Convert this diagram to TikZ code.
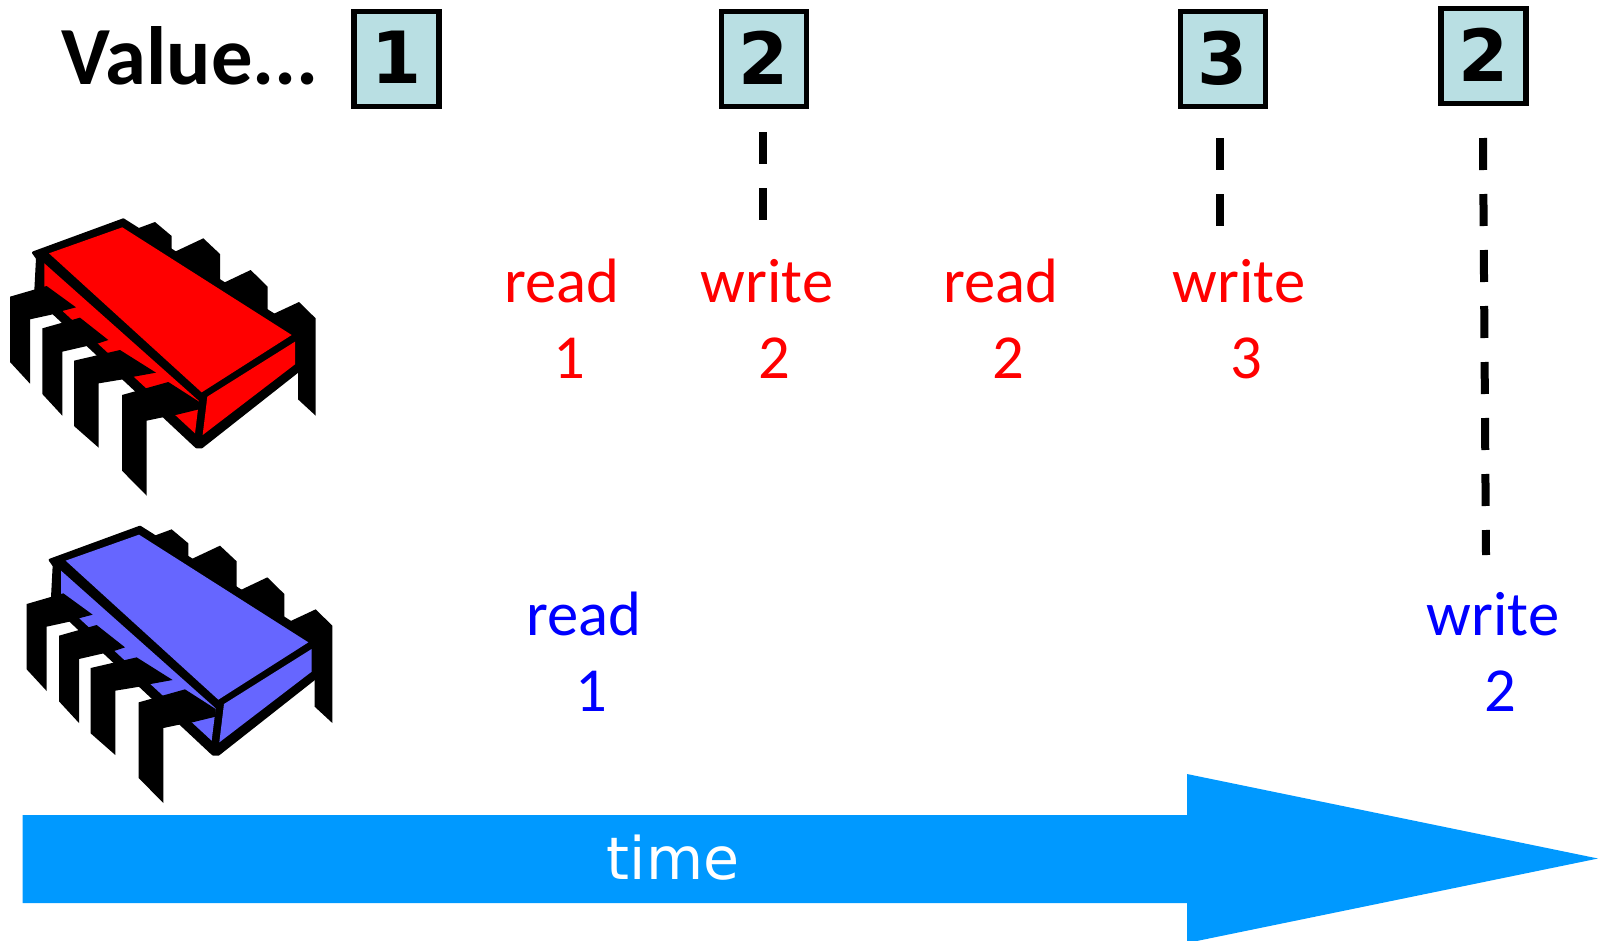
\documentclass[tikz,border=0pt]{standalone}
\usepackage{fontspec}
\setmainfont{Carlito}
\newfontfamily\digitfont{DejaVu Sans}
\definecolor{boxteal}{HTML}{B9DFE3}
\definecolor{arrowblue}{HTML}{0099FF}
\definecolor{chipblue}{HTML}{6666FF}
\tikzset{
  valbox/.style={draw=black,line width=4.2pt,fill=boxteal,minimum width=63.5pt,minimum height=71pt,inner sep=0pt,
    font=\digitfont\bfseries\fontsize{54}{54}\selectfont},
  lab/.style={anchor=base,inner sep=0pt,font=\fontsize{47}{50}\selectfont},
  redlab/.style={lab,text=red},
  bluelab/.style={lab,text=blue},
  dashline/.style={line width=6pt,dash pattern=on 24pt off 18pt},
}
\newcommand{\chipdraw}[1]{%
  % back pins
  \fill (400,90)--(465,66)--(515,108)--(515,165)--(450,165)--cycle;
  \fill (525,155)--(610,115)--(660,162)--(660,250)--(600,240)--cycle;
  \fill (672,248)--(752,210)--(803,260)--(803,345)--(740,320)--cycle;
  \fill (820,342)--(897,306)--(947,355)--(947,647)--(894,598)--(894,510)--(850,400)--cycle;
  % silhouette
  \draw[fill=black,line width=2pt,line join=round] (100,158)--(112,175)--(107,270)--(163,342)--(583,735)--(590,741)--(605,741)--(892,515)--(886,385)--(370,59)--cycle;
  % faces
  \fill[#1] (133,190)--(597,603)--(585,700)--(190,335)--(133,262)--cycle;
  \fill[#1] (147,160)--(367,82)--(875,405)--(605,577)--cycle;
  \fill[#1] (885,425)--(885,493)--(608,705)--(622,590)--cycle;
  % front pins
  \fill (30,290)--(140,258)--(228,322)--(190,332)--(163,342)--(90,358)--(90,551)--(30,486)--cycle;
  \fill (127,385)--(240,353)--(325,420)--(295,430)--(265,437)--(187,455)--(187,647)--(127,582)--cycle;
  \fill (222,482)--(360,450)--(468,518)--(402,530)--(375,537)--(296,550)--(296,743)--(222,678)--cycle;
  \fill (366,585)--(505,546)--(597,605)--(597,628)--(527,645)--(497,650)--(440,662)--(440,887)--(366,812)--cycle;
}
\begin{document}
\begin{tikzpicture}[x=0.75pt,y=-0.75pt]
\useasboundingbox (0,0) rectangle (1599,940);
\clip (0,0) rectangle (1599,940);
% time arrow
\fill[arrowblue] (22.5,815)--(1187,815)--(1187,774)--(1598,858.5)--(1187,943)--(1187,903)--(22.5,903)--cycle;
\node[inner sep=0pt,text=white,font=\digitfont\fontsize{44}{44}\selectfont,anchor=base] (timelabel) at (673,879) {time};
% value row
\node[anchor=base west,inner sep=0pt,font=\bfseries\fontsize{62}{62}\selectfont] (valuetxt) at (61,84) {Value...};
\node[valbox] (v1) at (396.5,59) {\raisebox{2.5pt}{1}};
\node[valbox] (v2) at (764,59) {\raisebox{2.5pt}{2}};
\node[valbox] (v3) at (1223,59) {\raisebox{2.5pt}{3}};
\node[valbox] (v4) at (1483.5,56) {\raisebox{2.5pt}{2}};
% dashed lines
\coordinate (d2a) at (763,132); \coordinate (d2b) at (763,220);
\coordinate (d3a) at (1220,138); \coordinate (d3b) at (1220,226);
\coordinate (d4a) at (1483,138); \coordinate (d4b) at (1486,555);
\draw[dashline] (d2a)--(d2b);
\draw[dashline] (d3a)--(d3b);
\draw[dashline] (d4a)--(d4b);
% red operations
\node[redlab] (r1) at (562,302) {read};
\node[redlab] (r1v) at (569,378) {1};
\node[redlab] (r2) at (767,302) {write};
\node[redlab] (r2v) at (774,378) {2};
\node[redlab] (r3) at (1001,302) {read};
\node[redlab] (r3v) at (1008,378) {2};
\node[redlab] (r4) at (1239,302) {write};
\node[redlab] (r4v) at (1246,378) {3};
% blue operations
\node[bluelab] (b1) at (584,635) {read};
\node[bluelab] (b1v) at (591,711) {1};
\node[bluelab] (b2) at (1493,635) {write};
\node[bluelab] (b2v) at (1500,711) {2};
% chips
\begin{scope}[x=0.25pt,y=-0.25pt,shift={(0pt,-150pt)}]
\chipdraw{red}
\end{scope}
\begin{scope}[x=0.25pt,y=-0.25pt,shift={(12.5pt,-380.5pt)}]
\chipdraw{chipblue}
\end{scope}
\end{tikzpicture}
\end{document}
